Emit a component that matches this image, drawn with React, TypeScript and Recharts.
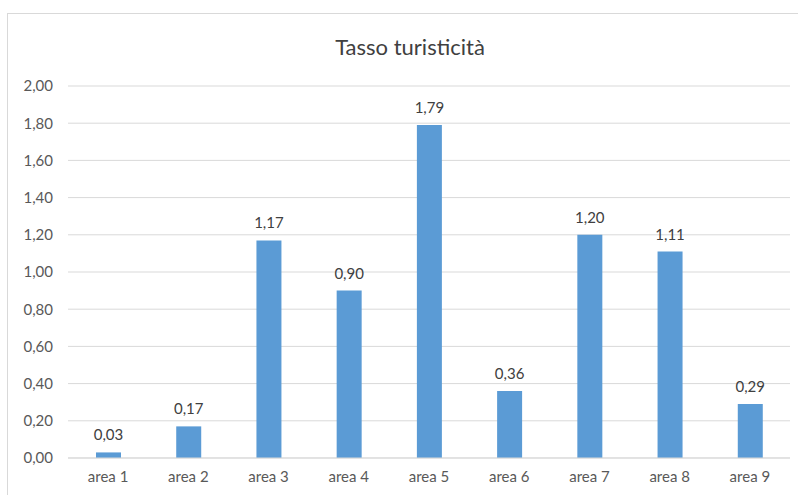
import { BarChart, Bar, XAxis, YAxis, CartesianGrid, LabelList } from 'recharts';

const categories = ['area 1', 'area 2', 'area 3', 'area 4', 'area 5', 'area 6', 'area 7', 'area 8', 'area 9'];
const values = [0.03, 0.17, 1.17, 0.9, 1.79, 0.36, 1.2, 1.11, 0.29];
const yTicks = [0, 0.2, 0.4, 0.6, 0.8, 1, 1.2, 1.4, 1.6, 1.8, 2];

const chartData = categories.map((name, i) => ({ name, value: values[i] }));

const fmt = (v: number) => Number(v).toFixed(2).replace('.', ',');

const font = 'Lato, "Open Sans", sans-serif';

export default function App() {
  return (
    <div style={{ position: 'fixed', left: 0, top: 0, width: 798, height: 495, background: '#fff', overflow: 'hidden', fontFamily: font }}>
      <div
        style={{
          position: 'absolute',
          left: 7,
          top: 13,
          width: 800,
          height: 500,
          border: '1px solid #D9D9D9',
          boxSizing: 'border-box',
        }}
      />
      <div
        style={{
          position: 'absolute',
          left: 0,
          width: 820,
          top: 32,
          textAlign: 'center',
          fontSize: 22,
          color: '#404040',
          lineHeight: '30px',
        }}
      >
        Tasso turisticità
      </div>
      <div style={{ position: 'absolute', left: 0, top: 0 }}>
        <BarChart width={798} height={495} data={chartData} margin={{ top: 86, right: 8, left: 8, bottom: 7 }}>
          <CartesianGrid vertical={false} stroke="#D9D9D9" strokeWidth={1} />
          <XAxis
            dataKey="name"
            height={30}
            tickLine={false}
            axisLine={{ stroke: '#D9D9D9' }}
            tickMargin={7}
            tick={{ fontSize: 15, fill: '#595959', fontFamily: font }}
            interval={0}
          />
          <YAxis
            width={60}
            domain={[0, 2]}
            ticks={yTicks}
            tickFormatter={fmt}
            tickLine={false}
            axisLine={false}
            tickMargin={9}
            tick={{ fontSize: 15, fill: '#595959', fontFamily: font }}
          />
          <Bar dataKey="value" fill="#5B9BD5" barSize={25} isAnimationActive={false}>
            <LabelList
              dataKey="value"
              position="top"
              offset={12}
              formatter={(v: any) => fmt(v)}
              style={{ fontSize: 15, fill: '#404040', fontFamily: font }}
            />
          </Bar>
        </BarChart>
      </div>
    </div>
  );
}
